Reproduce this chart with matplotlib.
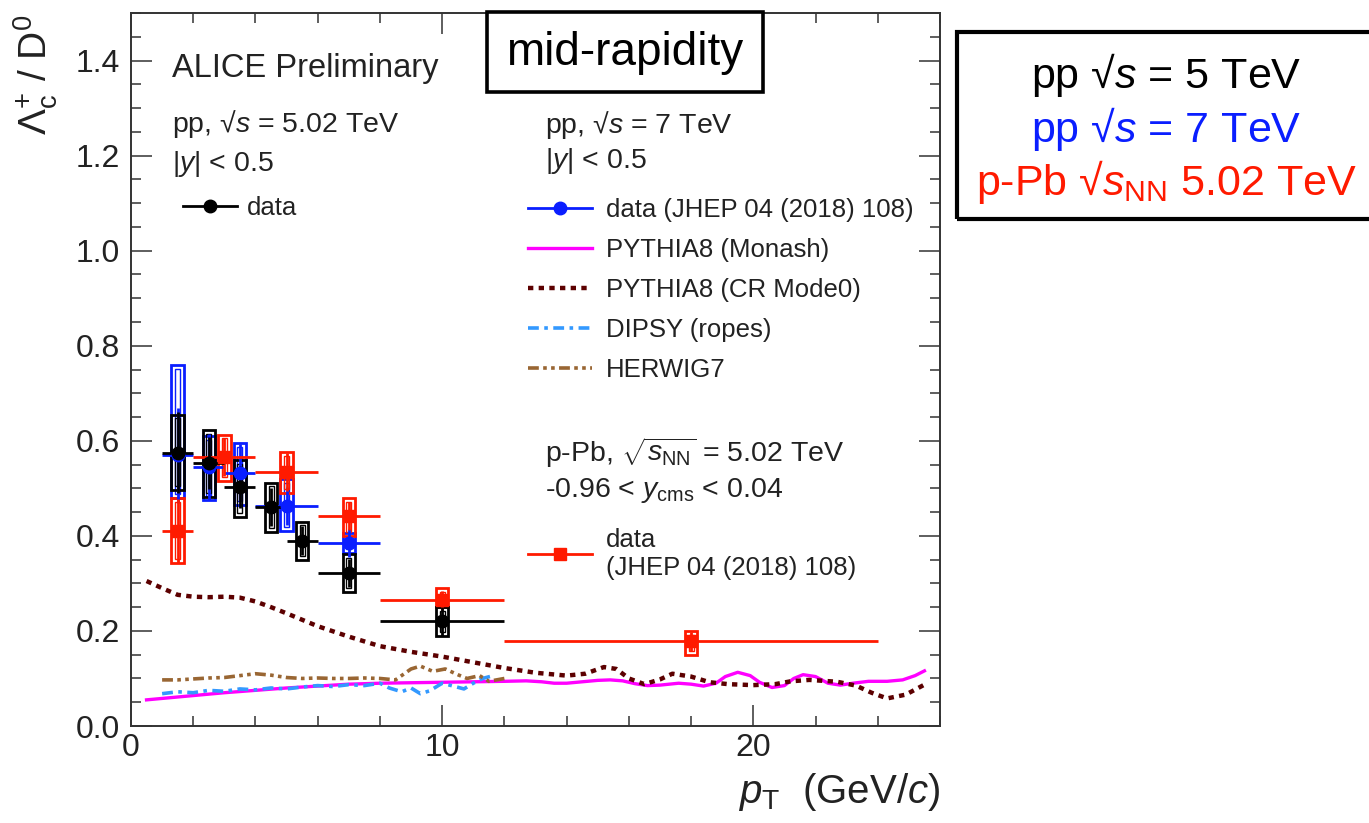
import matplotlib
matplotlib.use("Agg")
import matplotlib.pyplot as plt
from matplotlib.patches import Rectangle
from matplotlib.lines import Line2D
from matplotlib.ticker import MultipleLocator, FormatStrFormatter

plt.rcParams["font.family"] = ["Liberation Sans", "DejaVu Sans"]
plt.rcParams["mathtext.fontset"] = "custom"
plt.rcParams["mathtext.rm"] = "Liberation Sans"
plt.rcParams["mathtext.it"] = "Liberation Sans:italic"
plt.rcParams["mathtext.bf"] = "Liberation Sans:bold"

# pp 5.02 TeV (black)
pp5_x = [1.5, 2.5, 3.5, 4.5, 5.5, 7.0, 10.0]
pp5_xerr = [0.5, 0.5, 0.5, 0.5, 0.5, 1.0, 2.0]
pp5_y = [0.575, 0.553, 0.503, 0.460, 0.390, 0.322, 0.220]
pp5_stat = [0.085, 0.055, 0.045, 0.040, 0.030, 0.030, 0.030]
pp5_sys_lo = [0.078, 0.071, 0.063, 0.052, 0.040, 0.040, 0.030]
pp5_sys_hi = [0.080, 0.070, 0.057, 0.052, 0.040, 0.040, 0.030]

# pp 7 TeV (blue)
pp7_x = [1.5, 2.5, 3.5, 5.0, 7.0]
pp7_xerr = [0.5, 0.5, 0.5, 1.0, 1.0]
pp7_y = [0.570, 0.545, 0.533, 0.463, 0.385]
pp7_stat = [0.100, 0.070, 0.060, 0.040, 0.030]
pp7_sys_lo = [0.090, 0.070, 0.068, 0.053, 0.020]
pp7_sys_hi = [0.190, 0.065, 0.062, 0.057, 0.020]

# p-Pb 5.02 TeV (red)
ppb_x = [1.5, 3.0, 5.0, 7.0, 10.0, 18.0]
ppb_xerr = [0.5, 1.0, 1.0, 1.0, 2.0, 6.0]
ppb_y = [0.410, 0.565, 0.535, 0.442, 0.265, 0.178]
ppb_stat = [0.067, 0.040, 0.040, 0.030, 0.020, 0.020]
ppb_sys_lo = [0.067, 0.050, 0.045, 0.042, 0.015, 0.028]
ppb_sys_hi = [0.070, 0.048, 0.042, 0.038, 0.025, 0.022]

# models
monash_x = [0.5, 1.0, 2.0, 3.0, 4.0, 5.0, 6.0, 7.0, 8.0, 9.0, 10.0, 11.0, 12.0,
            12.7, 13.2, 13.6, 14.0, 14.5, 15.0, 15.4, 15.8, 16.2, 16.6, 17.0,
            17.6, 18.0, 18.4, 18.8, 19.1, 19.5, 19.9, 20.2, 20.6, 21.0, 21.3,
            21.6, 22.0, 22.4, 22.8, 23.2, 23.7, 24.3, 24.8, 25.2, 25.5]
monash_y = [0.055, 0.058, 0.064, 0.070, 0.075, 0.080, 0.084, 0.088, 0.090, 0.091,
            0.092, 0.093, 0.094, 0.095, 0.093, 0.090, 0.090, 0.093, 0.096, 0.097,
            0.095, 0.089, 0.085, 0.086, 0.090, 0.088, 0.084, 0.090, 0.104, 0.113,
            0.106, 0.092, 0.081, 0.085, 0.100, 0.108, 0.104, 0.090, 0.086, 0.090,
            0.094, 0.094, 0.097, 0.106, 0.116]

cr_x = [0.5, 1.0, 1.5, 2.0, 2.5, 3.0, 3.5, 4.0, 4.5, 5.0, 6.0, 7.0, 8.0, 9.0,
        10.0, 11.0, 12.0, 13.0, 14.0, 14.6, 15.2, 15.6, 16.0, 16.5, 17.0, 17.4,
        18.0, 18.6, 19.2, 20.0, 20.7, 21.2, 21.8, 22.7, 23.3, 23.8, 24.3, 24.9, 25.5]
cr_y = [0.305, 0.290, 0.276, 0.272, 0.271, 0.272, 0.270, 0.262, 0.250, 0.237,
        0.210, 0.188, 0.168, 0.156, 0.146, 0.134, 0.122, 0.112, 0.106, 0.110,
        0.124, 0.120, 0.100, 0.088, 0.098, 0.110, 0.104, 0.092, 0.088, 0.086,
        0.088, 0.094, 0.097, 0.093, 0.085, 0.070, 0.058, 0.066, 0.087]

dipsy_x = [1.0, 1.5, 2.0, 2.5, 3.0, 3.5, 4.0, 4.5, 5.0, 5.5, 6.0, 6.5, 7.0, 7.5,
           8.0, 8.3, 8.7, 9.0, 9.3, 9.6, 10.0, 10.3, 10.7, 11.0, 11.3, 11.7]
dipsy_y = [0.068, 0.072, 0.070, 0.075, 0.073, 0.078, 0.076, 0.080, 0.078, 0.082,
           0.085, 0.083, 0.087, 0.085, 0.090, 0.080, 0.072, 0.080, 0.068, 0.074,
           0.090, 0.085, 0.078, 0.090, 0.100, 0.107]

herwig_x = [1.0, 1.5, 2.0, 2.5, 3.0, 3.5, 4.0, 4.5, 5.0, 5.5, 6.0, 6.5, 7.0, 7.5,
            8.0, 8.5, 9.0, 9.3, 9.7, 10.1, 10.5, 10.8, 11.2, 11.5, 12.0]
herwig_y = [0.097, 0.097, 0.099, 0.101, 0.102, 0.106, 0.110, 0.107, 0.102, 0.100,
            0.101, 0.100, 0.100, 0.101, 0.100, 0.097, 0.120, 0.126, 0.115, 0.120,
            0.108, 0.100, 0.106, 0.094, 0.100]

BLACK = "black"
BLUE = "#0a1eff"
RED = "#ff1a00"
MAGENTA = "#ff00ff"
MAROON = "#5c0000"
DIPSY_C = "#3399ff"
HERWIG_C = "#996633"
TXT = "#222222"

W, H = 1369, 823


def fx(px):
    return px / W


def fy(py):
    return 1 - py / H


def draw_data(ax, x, xerr, y, stat, lo, hi, color, marker):
    for xi, yi, l, h in zip(x, y, lo, hi):
        ax.add_patch(Rectangle((xi - 0.2, yi - l), 0.4, l + h, fill=False,
                               edgecolor=color, lw=2.0, zorder=4))
        ax.add_patch(Rectangle((xi - 0.08, yi - l + 0.008), 0.16, l + h - 0.016,
                               fill=False, edgecolor=color, lw=1.0, zorder=4))
    ax.errorbar(x, y, xerr=xerr, yerr=stat, fmt=marker, color=color, ms=9,
                elinewidth=2, capsize=0, zorder=5)


fig = plt.figure(figsize=(13.69, 8.23), dpi=100)
ax = fig.add_axes([fx(131), fy(726), (940 - 131) / W, (726 - 13) / H])

ax.plot(monash_x, monash_y, color=MAGENTA, lw=2.4, zorder=3)
ax.plot(cr_x, cr_y, color=MAROON, lw=3.2, ls=(0, (1.2, 1.2)), zorder=3)
ax.plot(dipsy_x, dipsy_y, color=DIPSY_C, lw=2.6, ls=(0, (3, 1.5, 1, 1.5)), zorder=3)
ax.plot(herwig_x, herwig_y, color=HERWIG_C, lw=2.6,
        ls=(0, (3, 1.2, 1, 1.2, 1, 1.2)), zorder=3)

draw_data(ax, pp7_x, pp7_xerr, pp7_y, pp7_stat, pp7_sys_lo, pp7_sys_hi, BLUE, "o")
draw_data(ax, ppb_x, ppb_xerr, ppb_y, ppb_stat, ppb_sys_lo, ppb_sys_hi, RED, "s")
draw_data(ax, pp5_x, pp5_xerr, pp5_y, pp5_stat, pp5_sys_lo, pp5_sys_hi, BLACK, "o")

ax.set_xlim(0, 26)
ax.set_ylim(0, 1.5)
ax.xaxis.set_major_locator(MultipleLocator(10))
ax.xaxis.set_minor_locator(MultipleLocator(2))
ax.yaxis.set_major_locator(MultipleLocator(0.2))
ax.yaxis.set_minor_locator(MultipleLocator(0.05))
ax.yaxis.set_major_formatter(FormatStrFormatter("%.1f"))
ax.tick_params(which="both", direction="in", top=True, right=True,
               width=1.1, color="#333333", labelcolor=TXT)
ax.tick_params(which="major", length=15, labelsize=23)
ax.tick_params(axis="y", which="major", pad=8)
ax.tick_params(axis="x", which="major", pad=5)
ax.tick_params(which="minor", length=7)
for sp in ax.spines.values():
    sp.set_linewidth(1.4)
    sp.set_color("#333333")

# axis titles
fig.text(fx(36), fy(15), r"$Λ_{\mathrm{c}}^{+}$ / D$^{0}$", rotation=90,
         ha="center", va="top", fontsize=28, color=TXT)
fig.text(fx(940), fy(803), r"$p_{\mathrm{T}}$  (GeV/$c$)", ha="right",
         va="baseline", fontsize=29, color=TXT)

# in-plot labels
fig.text(fx(172), fy(77), "ALICE Preliminary", fontsize=23.5, color=TXT)
fig.text(fx(172), fy(132), r"pp, √$s$ = 5.02 TeV", fontsize=20.5, color=TXT)
fig.text(fx(172), fy(171), r"|$y$| < 0.5", fontsize=20.5, color=TXT)
fig.text(fx(545), fy(133), r"pp, √$s$ = 7 TeV", fontsize=20.5, color=TXT)
fig.text(fx(545), fy(168), r"|$y$| < 0.5", fontsize=20.5, color=TXT)
fig.text(fx(545), fy(462), r"p-Pb, $\sqrt{s_{\mathrm{NN}}}$ = 5.02 TeV",
         fontsize=20.5, color=TXT)
fig.text(fx(545), fy(497), r"-0.96 < $y_{\mathrm{cms}}$ < 0.04", fontsize=20.5,
         color=TXT)

leg_kw = dict(frameon=False, loc="upper left", fontsize=18.5, borderpad=0,
              borderaxespad=0, labelspacing=0.62, bbox_transform=fig.transFigure,
              labelcolor=TXT)

h_pp5 = [Line2D([], [], color=BLACK, marker="o", ms=9, lw=2)]
leg1 = ax.legend(h_pp5, ["data"], bbox_to_anchor=(fx(183), fy(196)),
                 handlelength=2.1, handletextpad=0.4, **leg_kw)
ax.add_artist(leg1)

h_pp7 = [Line2D([], [], color=BLUE, marker="o", ms=9, lw=2),
         Line2D([], [], color=MAGENTA, lw=2.4),
         Line2D([], [], color=MAROON, lw=3.2, ls=(0, (1.2, 1.2))),
         Line2D([], [], color=DIPSY_C, lw=2.6, ls=(0, (3, 1.5, 1, 1.5))),
         Line2D([], [], color=HERWIG_C, lw=2.6, ls=(0, (3, 1.2, 1, 1.2, 1, 1.2)))]
lab_pp7 = ["data (JHEP 04 (2018) 108)", "PYTHIA8 (Monash)", "PYTHIA8 (CR Mode0)",
           "DIPSY (ropes)", "HERWIG7"]
leg2 = ax.legend(h_pp7, lab_pp7, bbox_to_anchor=(fx(528), fy(198)),
                 handlelength=2.5, handletextpad=0.55, **leg_kw)
ax.add_artist(leg2)

h_ppb = [Line2D([], [], color=RED, marker="s", ms=9, lw=2)]
leg3 = ax.legend(h_ppb, ["data\n(JHEP 04 (2018) 108)"],
                 bbox_to_anchor=(fx(528), fy(528)), handlelength=2.5,
                 handletextpad=0.55, **leg_kw)

# boxes outside the frame
fig.patches.append(Rectangle((fx(487), fy(92)), (763 - 487) / W, (92 - 12) / H,
                             transform=fig.transFigure, fill=True, facecolor="white",
                             edgecolor="black", lw=2.6, zorder=10))
fig.text(fx(625), fy(53), "mid-rapidity", fontsize=33, ha="center", va="center",
         color="black", zorder=11)

fig.patches.append(Rectangle((fx(957), fy(219)), (1380 - 957) / W, (219 - 32) / H,
                             transform=fig.transFigure, fill=False,
                             edgecolor="black", lw=3.0, zorder=10))
fig.text(fx(1166), fy(88), r"pp √$s$ = 5 TeV", fontsize=31, ha="center",
         va="baseline", color="black")
fig.text(fx(1166), fy(142), r"pp √$s$ = 7 TeV", fontsize=31, ha="center",
         va="baseline", color=BLUE)
fig.text(fx(1166), fy(195), r"p-Pb √$s_{\mathrm{NN}}$ 5.02 TeV", fontsize=31,
         ha="center", va="baseline", color=RED)

fig.savefig("out.png", dpi=100)
